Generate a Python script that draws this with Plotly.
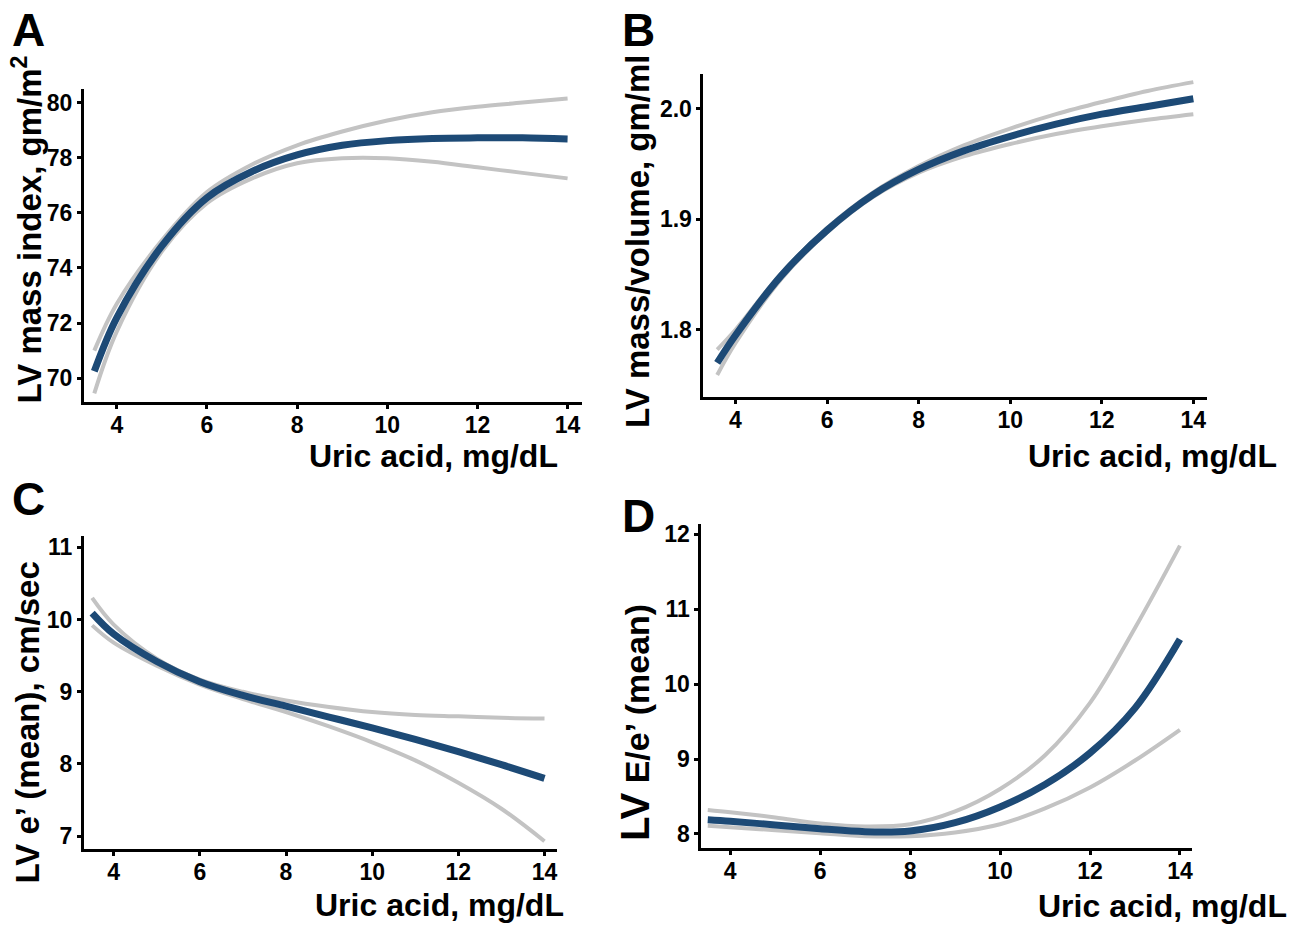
import plotly.graph_objects as go

# ---------------- data ----------------
uric_A = [3.5, 4, 5, 6, 7, 8, 9, 10, 11, 12, 13, 14]
lvmi_fit = [70.25, 72.2, 74.8, 76.55, 77.5, 78.1, 78.45, 78.62, 78.7, 78.72, 78.72, 78.68]
lvmi_upper = [71.0, 72.7, 75.0, 76.75, 77.75, 78.45, 78.95, 79.35, 79.65, 79.85, 80.0, 80.15]
lvmi_lower = [69.45, 71.7, 74.6, 76.35, 77.25, 77.8, 77.98, 77.98, 77.85, 77.65, 77.45, 77.25]

uric_B = [3.6, 4, 5, 6, 7, 8, 9, 10, 11, 12, 13, 14]
mv_fit = [1.770, 1.795, 1.849, 1.890, 1.922, 1.945, 1.962, 1.975, 1.986, 1.995, 2.002, 2.009]
mv_upper = [1.782, 1.800, 1.851, 1.892, 1.924, 1.948, 1.967, 1.982, 1.995, 2.006, 2.016, 2.024]
mv_lower = [1.759, 1.788, 1.846, 1.888, 1.920, 1.942, 1.957, 1.968, 1.977, 1.984, 1.990, 1.995]

uric_C = [3.5, 4, 5, 6, 7, 8, 9, 10, 11, 12, 13, 14]
e_fit = [10.09, 9.80, 9.42, 9.14, 8.95, 8.80, 8.65, 8.50, 8.34, 8.17, 7.99, 7.80]
e_upper = [10.30, 9.93, 9.46, 9.17, 9.00, 8.88, 8.79, 8.72, 8.68, 8.66, 8.64, 8.63]
e_lower = [9.92, 9.68, 9.36, 9.10, 8.90, 8.72, 8.52, 8.30, 8.05, 7.74, 7.38, 6.93]

uric_D = [3.5, 4, 5, 6, 7, 8, 9, 10, 11, 12, 13, 14]
ee_fit = [8.19, 8.17, 8.12, 8.07, 8.03, 8.04, 8.15, 8.36, 8.66, 9.08, 9.68, 10.6]
ee_upper = [8.32, 8.29, 8.22, 8.14, 8.10, 8.13, 8.30, 8.60, 9.05, 9.75, 10.75, 11.85]
ee_lower = [8.11, 8.09, 8.05, 8.01, 7.97, 7.97, 8.02, 8.13, 8.34, 8.62, 8.98, 9.39]

x_ticks = [4, 6, 8, 10, 12, 14]
panel_letters = ["A", "B", "C", "D"]
x_title = "Uric acid, mg/dL"
y_titles = ["LV mass index, gm/m<sup>2</sup>", "LV mass/volume, gm/ml",
            "LV e\u2019 (mean), cm/sec",
            "<span style='font-size:40px'>LV</span> E/e\u2019 (mean)"]

# ---------------- style ----------------
W, H = 1305, 926
BLUE = "#1d4a76"
GREY = "#c3c3c3"
FONT = "Liberation Sans, Arial, sans-serif"

panels = [
    dict(x=uric_A, fit=lvmi_fit, up=lvmi_upper, lo=lvmi_lower,
         px=(84, 582), py=(87, 401), xr=[3.27, 14.31], yr=[69.13, 80.5],
         yt=[70, 72, 74, 76, 78, 80], yfmt="d"),
    dict(x=uric_B, fit=mv_fit, up=mv_upper, lo=mv_lower,
         px=(704, 1208), py=(72, 396), xr=[3.30, 14.30], yr=[1.739, 2.0315],
         yt=[1.8, 1.9, 2.0], yfmt=".1f"),
    dict(x=uric_C, fit=e_fit, up=e_upper, lo=e_lower,
         px=(84, 557), py=(535, 849), xr=[3.31, 14.28], yr=[6.82, 11.16],
         yt=[7, 8, 9, 10, 11], yfmt="d"),
    dict(x=uric_D, fit=ee_fit, up=ee_upper, lo=ee_lower,
         px=(702, 1193), py=(523, 848), xr=[3.36, 14.27], yr=[7.81, 12.14],
         yt=[8, 9, 10, 11, 12], yfmt="d"),
]

fig = go.Figure()
layout = {}
for i, p in enumerate(panels):
    n = "" if i == 0 else str(i + 1)
    xa, ya = "x" + n, "y" + n
    for arr in (p["up"], p["lo"]):
        fig.add_trace(go.Scatter(x=p["x"], y=arr, mode="lines", xaxis=xa, yaxis=ya,
                                 line=dict(color=GREY, width=4, shape="spline"),
                                 showlegend=False, hoverinfo="skip"))
    fig.add_trace(go.Scatter(x=p["x"], y=p["fit"], mode="lines", xaxis=xa, yaxis=ya,
                             line=dict(color=BLUE, width=7, shape="spline"),
                             showlegend=False))
    common = dict(showline=True, linewidth=3, linecolor="black", mirror=False,
                  ticks="outside", ticklen=4, tickwidth=3, tickcolor="black",
                  showgrid=False, zeroline=False,
                  tickfont=dict(family=FONT, size=23, color="black", weight="bold"))
    layout["xaxis" + n] = dict(common, domain=[p["px"][0] / W, p["px"][1] / W],
                               range=p["xr"], anchor=ya, tickvals=x_ticks,
                               ticklabelstandoff=-4)
    layout["yaxis" + n] = dict(common, domain=[1 - p["py"][1] / H, 1 - p["py"][0] / H],
                               range=p["yr"], anchor=xa, tickvals=p["yt"],
                               tickformat=p["yfmt"], ticklabelstandoff=0)

annotations = []
# x titles (right-aligned)
for (xr_, yc) in [(560, 455), (1280, 455), (566, 905), (1290, 906)]:
    annotations.append(dict(text=x_title, x=xr_ / W, y=1 - yc / H, xref="paper", yref="paper",
                            xanchor="right", yanchor="middle", showarrow=False,
                            font=dict(family=FONT, size=32, color="black", weight="bold")))
# y titles (rotated)
for t, (xc, yc) in zip(y_titles, [(27, 228), (638, 240), (27, 722), (636, 722)]):
    annotations.append(dict(text=t, x=xc / W, y=1 - yc / H, xref="paper", yref="paper",
                            xanchor="center", yanchor="middle", textangle=-90, showarrow=False,
                            font=dict(family=FONT, size=33 if "E/e" not in t else 34,
                                      color="black", weight="bold")))
# panel letters
for t, (xl, yt) in zip(panel_letters, [(10, 0), (620, 0), (10, 470), (620, 487)]):
    annotations.append(dict(text=t, x=xl / W, y=1 - yt / H, xref="paper", yref="paper",
                            xanchor="left", yanchor="top", showarrow=False,
                            font=dict(family=FONT, size=46, color="black", weight="bold")))

fig.update_layout(width=W, height=H, margin=dict(l=0, r=0, t=0, b=0),
                  paper_bgcolor="white", plot_bgcolor="white",
                  annotations=annotations, **layout)

fig.write_html("out.html", config={"displayModeBar": False},
               post_script="document.body.style.margin='0';document.body.style.overflow='hidden';")
